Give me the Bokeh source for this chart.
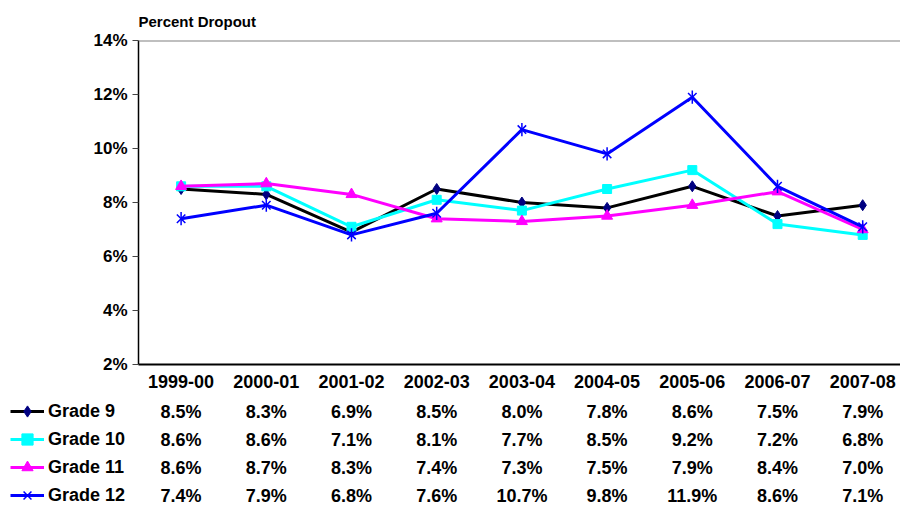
import numpy as np
from bokeh.plotting import figure
from bokeh.models import (Range1d, FixedTicker, PrintfTickFormatter, Span, Legend,
                          LegendItem, ColumnDataSource)
from bokeh.layouts import column, row
from bokeh.core.properties import value
from bokeh.embed import file_html
from bokeh.resources import INLINE

# ---------------- data ----------------
categories = ["1999-00", "2000-01", "2001-02", "2002-03", "2003-04",
              "2004-05", "2005-06", "2006-07", "2007-08"]
series_names = ["Grade 9", "Grade 10", "Grade 11", "Grade 12"]
grade9 = [8.5, 8.3, 6.9, 8.5, 8.0, 7.8, 8.6, 7.5, 7.9]
grade10 = [8.6, 8.6, 7.1, 8.1, 7.7, 8.5, 9.2, 7.2, 6.8]
grade11 = [8.6, 8.7, 8.3, 7.4, 7.3, 7.5, 7.9, 8.4, 7.0]
grade12 = [7.4, 7.9, 6.8, 7.6, 10.7, 9.8, 11.9, 8.6, 7.1]
y_ticks = [2, 4, 6, 8, 10, 12, 14]

series_values = [grade9, grade10, grade11, grade12]

# ---------------- styles ----------------
styles = [
    dict(line="#000000", marker="diamond", mcolor="#000080", size=11),
    dict(line="#00FFFF", marker="square", mcolor="#00FFFF", size=9),
    dict(line="#FF00FF", marker="triangle", mcolor="#FF00FF", size=11),
    dict(line="#0000FF", marker="asterisk", mcolor="#0000FF", size=12),
]
FONT = "Liberation Sans"

W = 900
LEFT = 138          # px from figure left to plot frame
BAND = 85.2         # px per category
frame_w = W - LEFT
x_end = -0.5 + frame_w / BAND
xs = np.arange(len(categories))
xr = Range1d(-0.5, x_end)

H1 = 395
# ---------------- chart ----------------
p = figure(width=W, height=H1, output_backend="svg", toolbar_location=None,
           x_range=xr, y_range=Range1d(2, 14),
           min_border_left=LEFT, min_border_right=0, min_border_top=40,
           min_border_bottom=31)
p.outline_line_color = None
p.xgrid.visible = False
p.ygrid.visible = False
p.background_fill_color = "white"
p.border_fill_color = "white"

p.title.text = "Percent Dropout"
p.title.text_font = FONT
p.title.text_font_size = "15px"
p.title.text_font_style = "bold"
p.title.text_color = "black"
p.title.align = "left"
p.title.standoff = 21

ya = p.yaxis[0]
ya.ticker = FixedTicker(ticks=y_ticks)
ya.formatter = PrintfTickFormatter(format="%d%%")
ya.major_tick_out = 6
ya.major_tick_in = 0
ya.minor_tick_out = 0
ya.minor_tick_in = 0
ya.major_tick_line_color = "#444444"
ya.axis_line_color = "black"
ya.axis_line_width = 1.5
ya.major_label_standoff = 5
ya.major_label_text_font = FONT
ya.major_label_text_font_style = "bold"
ya.major_label_text_font_size = "17px"
ya.major_label_text_color = "black"

xa = p.xaxis[0]
xa.ticker = FixedTicker(ticks=list(xs))
xa.major_label_overrides = {int(i): c for i, c in zip(xs, categories)}
xa.major_tick_out = 0
xa.major_tick_in = 0
xa.minor_tick_out = 0
xa.minor_tick_in = 0
xa.axis_line_color = "black"
xa.axis_line_width = 2
xa.major_label_standoff = 10
xa.major_label_text_font = FONT
xa.major_label_text_font_style = "bold"
xa.major_label_text_font_size = "18px"
xa.major_label_text_color = "black"

p.add_layout(Span(location=14, dimension="width", line_color="#808080", line_width=2))

for vals, st in zip(series_values, styles):
    p.line(xs, vals, line_color=st["line"], line_width=3)
    if st["marker"] == "asterisk":
        p.scatter(xs, vals, marker="x", size=st["size"], line_color=st["mcolor"], line_width=1.5)
        p.scatter(xs, vals, marker="dash", angle=np.pi / 2, size=st["size"] * 1.1,
                  line_color=st["mcolor"], line_width=1.5)
    else:
        p.scatter(xs, vals, marker=st["marker"], size=st["size"],
                  fill_color=st["mcolor"], line_color=st["mcolor"])

# ---------------- data table ----------------
T_H = 110
ROW = 28
FIRST = 16
yr_t = Range1d((T_H - FIRST) / ROW, -FIRST / ROW)

p2 = figure(width=W - LEFT, height=T_H, output_backend="svg", toolbar_location=None,
            x_range=xr, y_range=yr_t,
            x_axis_type=None, y_axis_type=None,
            min_border_left=0, min_border_right=0, min_border_top=0, min_border_bottom=0)
p2.outline_line_color = None
p2.xgrid.visible = False
p2.ygrid.visible = False

tx, ty, tt = [], [], []
for r, vals in enumerate(series_values):
    for j, v in enumerate(vals):
        tx.append(int(j))
        ty.append(r)
        tt.append(f"{v:.1f}%")
src = ColumnDataSource(dict(x=tx, y=ty, t=tt))
p2.text(x="x", y="y", text="t", source=src, text_font=value(FONT),
        text_font_style="bold", text_font_size="18px", text_align="center",
        text_baseline="middle", text_color="black")

# legend keys in their own small figure on the left
fl = figure(width=LEFT, height=T_H, output_backend="svg", toolbar_location=None,
            x_range=Range1d(0, 1), y_range=yr_t,
            x_axis_type=None, y_axis_type=None,
            min_border_left=0, min_border_right=0, min_border_top=0, min_border_bottom=0)
fl.outline_line_color = None
fl.xgrid.visible = False
fl.ygrid.visible = False

nan = [float("nan")]
items = []
for name, st in zip(series_names, styles):
    rl = fl.line(nan, nan, line_color=st["line"], line_width=3)
    rs = []
    if st["marker"] == "asterisk":
        rs.append(fl.scatter(nan, nan, marker="x", line_color=st["mcolor"], line_width=1.5))
        rs.append(fl.scatter(nan, nan, marker="dash", angle=np.pi / 2,
                             line_color=st["mcolor"], line_width=1.5))
    else:
        rs.append(fl.scatter(nan, nan, marker=st["marker"], fill_color=st["mcolor"],
                             line_color=st["mcolor"]))
    items.append(LegendItem(label=name, renderers=[rl] + rs))

leg_top = FIRST - ROW / 2
legend = Legend(items=items, location=(10, T_H - leg_top - 4 * ROW),
                glyph_width=34, glyph_height=ROW, label_height=ROW,
                spacing=0, padding=0, margin=0, label_standoff=4,
                label_text_font=FONT, label_text_font_style="bold",
                label_text_font_size="18px", label_text_color="black",
                border_line_color=None, background_fill_alpha=0)
fl.add_layout(legend)

layout = column(p, row(fl, p2, spacing=0), spacing=0)
open("out.html", "w").write(file_html(layout, INLINE))
